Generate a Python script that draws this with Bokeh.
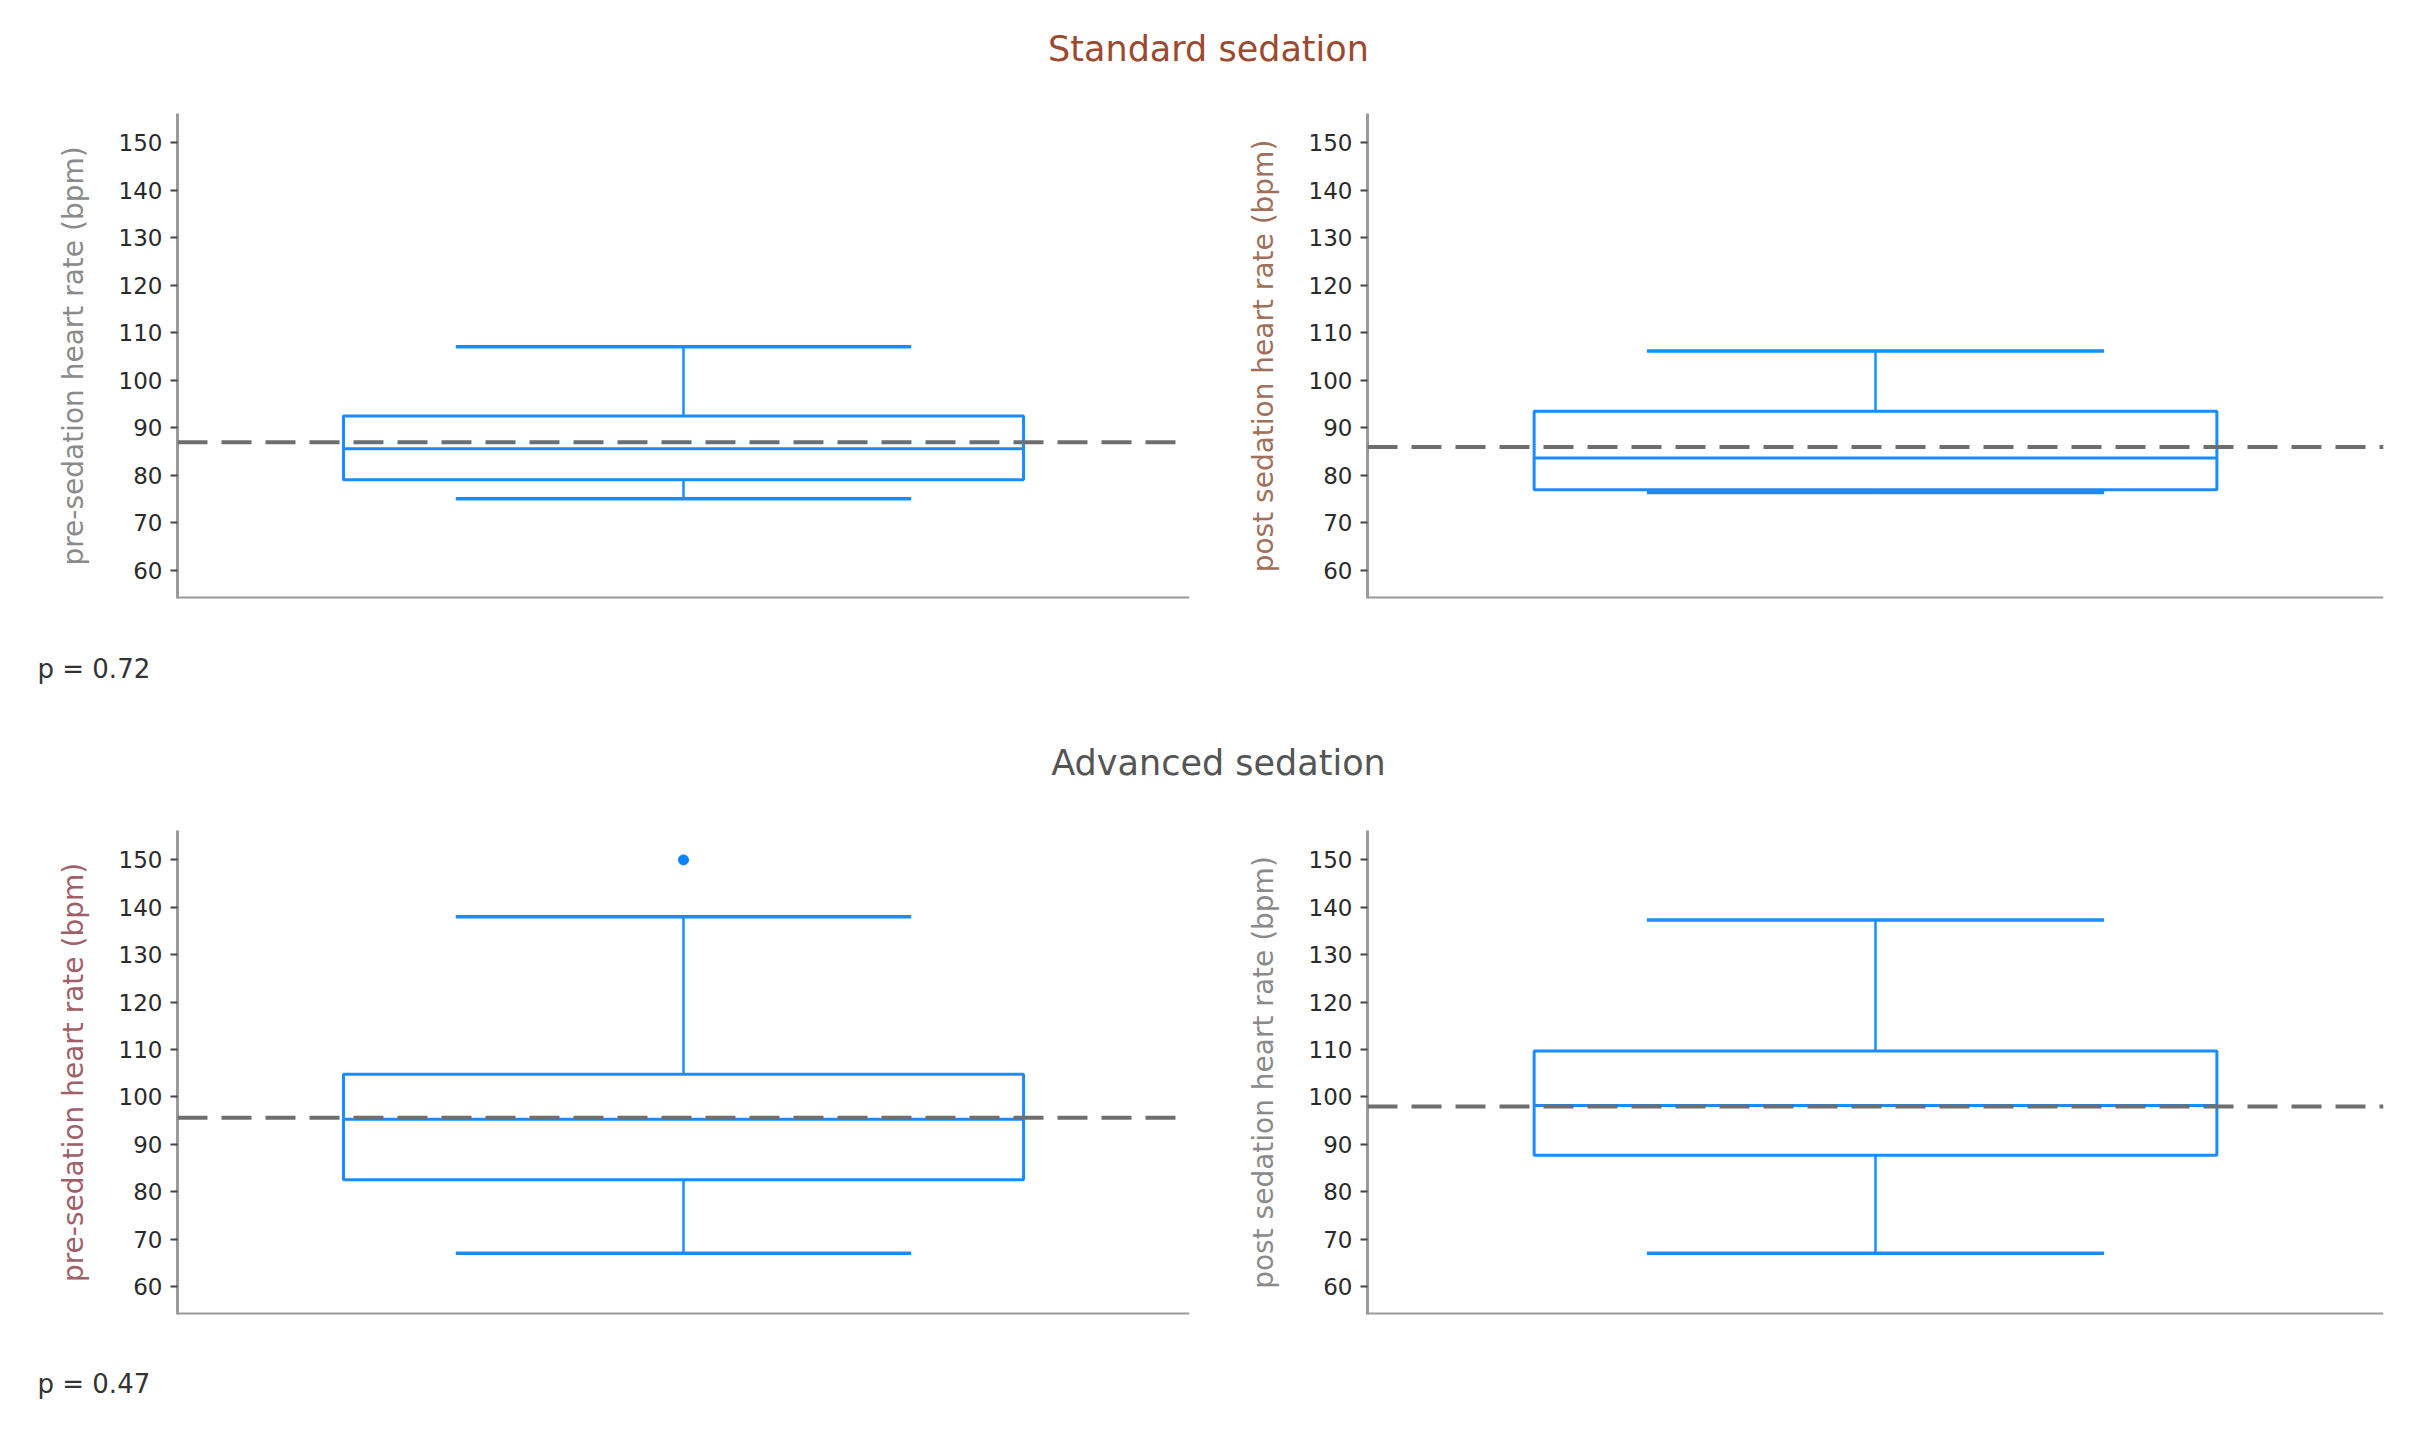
from bokeh.plotting import figure
from bokeh.models import (ColumnDataSource, FactorRange, Range1d, FixedTicker, Span)
from bokeh.transform import dodge
from bokeh.layouts import column, row
from bokeh.core.properties import value
from bokeh.embed import file_html
from bokeh.resources import INLINE

# ---------------- data ----------------
section_titles = ["Standard sedation", "Advanced sedation"]
p_values = ["p = 0.72", "p = 0.47"]
y_labels = ["pre-sedation heart rate (bpm)", "post sedation heart rate (bpm)"]
y_ticks = [60, 70, 80, 90, 100, 110, 120, 130, 140, 150]

# five-number summaries: lower whisker, Q1, median, Q3, upper whisker
std_pre = [75.1, 79.1, 85.6, 92.5, 107.1]
std_post = [76.4, 77.0, 83.7, 93.5, 106.2]
adv_pre = [67.0, 82.5, 95.3, 104.8, 138.0]
adv_post = [67.0, 87.7, 98.2, 109.7, 137.3]
# means (dashed reference lines)
std_pre_mean = 87.0
std_post_mean = 86.0
adv_pre_mean = 95.6
adv_post_mean = 98.0
# outliers
std_pre_out = []
std_post_out = []
adv_pre_out = [150.0]
adv_post_out = []

# ---------------- style ----------------
FONT = "DejaVu Sans"
BLUE = "#1a8cff"
BOX_W = 0.672
CAP_W = 0.45
Y_RANGE = (54.1, 156.2)


def panel(name, stats, mean, outliers, label, label_color, width, left, right, height):
    p = figure(width=width, height=height, output_backend="svg", toolbar_location=None,
               x_range=FactorRange(factors=[name], range_padding=0),
               y_range=Range1d(*Y_RANGE),
               min_border_left=left, min_border_right=right,
               min_border_top=0, min_border_bottom=30)
    p.outline_line_color = None
    p.xgrid.visible = False
    p.ygrid.visible = False
    p.xaxis.visible = False
    lo, q1, med, q3, hi = stats
    src = ColumnDataSource(dict(x=[name], lo=[lo], q1=[q1], med=[med], q3=[q3], hi=[hi]))
    p.vbar(x="x", width=BOX_W, bottom="q1", top="q3", source=src,
           fill_color="white", line_color=BLUE, line_width=3)
    p.segment(x0=dodge("x", -BOX_W / 2, range=p.x_range), y0="med",
              x1=dodge("x", BOX_W / 2, range=p.x_range), y1="med",
              source=src, line_color=BLUE, line_width=3)
    p.segment(x0="x", y0="q3", x1="x", y1="hi", source=src, line_color=BLUE, line_width=2.5)
    p.segment(x0="x", y0="q1", x1="x", y1="lo", source=src, line_color=BLUE, line_width=2.5)
    for col in ("hi", "lo"):
        p.segment(x0=dodge("x", -CAP_W / 2, range=p.x_range), y0=col,
                  x1=dodge("x", CAP_W / 2, range=p.x_range), y1=col,
                  source=src, line_color=BLUE, line_width=3.5)
    if outliers:
        p.scatter(x=[name] * len(outliers), y=outliers, size=10,
                  fill_color="#0a84ff", line_color="#0a84ff")
    p.add_layout(Span(location=mean, dimension="width", line_color="#6e6e6e",
                      line_dash="30 14", line_width=4))
    # bottom axis line (no ticks, no labels)
    p.add_layout(Span(location=Y_RANGE[0], dimension="width", line_color="#9a9a9a",
                      line_width=4))

    ya = p.yaxis[0]
    ya.ticker = FixedTicker(ticks=y_ticks)
    ya.axis_line_color = "#9a9a9a"
    ya.axis_line_width = 3
    ya.major_tick_in = 0
    ya.major_tick_out = 7
    ya.major_tick_line_color = "#444444"
    ya.major_tick_line_width = 2
    ya.minor_tick_line_color = None
    ya.major_label_standoff = 8
    ya.major_label_text_font = FONT
    ya.major_label_text_font_size = "23px"
    ya.major_label_text_color = "#2a2a2a"
    ya.axis_label = label
    ya.axis_label_text_font = FONT
    ya.axis_label_text_font_size = "28px"
    ya.axis_label_text_font_style = "normal"
    ya.axis_label_text_color = label_color
    ya.axis_label_standoff = 26
    return p


def text_strip(width, height, items):
    p = figure(width=width, height=height, output_backend="svg", toolbar_location=None,
               x_range=Range1d(0, width), y_range=Range1d(height, 0),
               x_axis_type=None, y_axis_type=None, min_border=0)
    p.outline_line_color = None
    p.xgrid.visible = False
    p.ygrid.visible = False
    for (x, y, t, c, s, a) in items:
        p.text(x=[x], y=[y], text=[t], text_color=c, text_font_size=value(s),
               text_align=a, text_baseline="middle", text_font=value(FONT))
    return p


W_L, W_R = 1200, 1193
TOTAL_W = W_L + W_R

hdr = text_strip(TOTAL_W, 113, [(1208, 48, section_titles[0], "#9b4a30", "35px", "center")])

tl = panel("pre", std_pre, std_pre_mean, std_pre_out, y_labels[0], "#8a8a8a", W_L, 177, 11, 515)
tr = panel("post", std_post, std_post_mean, std_post_out, y_labels[1], "#a0705a", W_R, 167, 10, 515)

mid = text_strip(TOTAL_W, 202, [(37, 40, p_values[0], "#333333", "26px", "left"),
                                (1218, 134, section_titles[1], "#555555", "35px", "center")])

bl = panel("pre", adv_pre, adv_pre_mean, adv_pre_out, y_labels[0], "#a0606a", W_L, 177, 11, 514)
br = panel("post", adv_post, adv_post_mean, adv_post_out, y_labels[1], "#8a8a8a", W_R, 167, 10, 514)

ftr = text_strip(TOTAL_W, 76, [(37, 39, p_values[1], "#333333", "26px", "left")])

layout = column(hdr, row(tl, tr), mid, row(bl, br), ftr)

open("out.html", "w").write(file_html(layout, INLINE))
